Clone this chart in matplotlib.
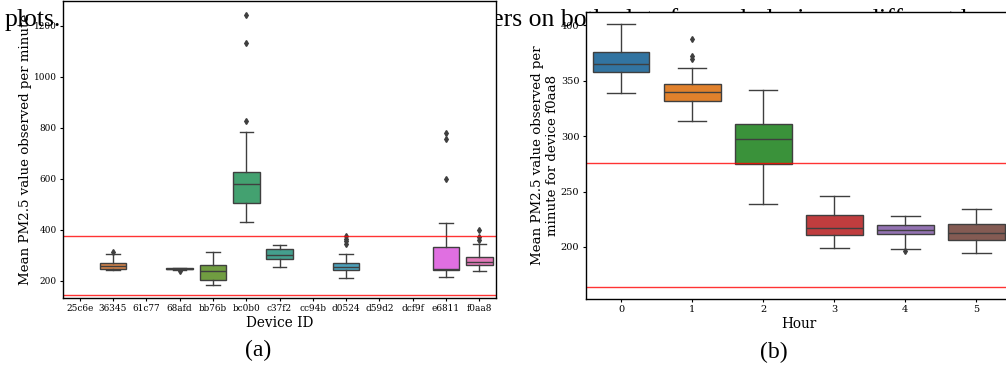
import matplotlib
matplotlib.use("Agg")
import matplotlib.pyplot as plt
import seaborn as sns

# per-device minute means (box statistics), None where a device has no data
devices = ["25c6e", "36345", "61c77", "68afd", "bb76b", "bc0b0", "c37f2",
           "cc94b", "d0524", "d59d2", "dcf9f", "e6811", "f0aa8"]
dev_lo = [None, 242, None, 244, 184, 431, 255, None, 212, None, None, 217, 240]
dev_q1 = [None, 248, None, 246, 204, 506, 285, None, 242, None, None, 243, 261]
dev_med = [None, 260, None, 248, 239, 580, 302, None, 256, None, None, 248, 273]
dev_q3 = [None, 272, None, 250, 261, 627, 324, None, 269, None, None, 332, 295]
dev_hi = [None, 306, None, 252, 315, 784, 340, None, 306, None, None, 429, 345]
dev_fliers = [[], [312], [], [238], [], [828, 1133, 1243], [], [],
              [345, 355, 365, 378], [], [], [600, 755, 780], [361, 371, 400]]
dev_limits = [376, 145]

# device f0aa8 split by hour
hours = ["0", "1", "2", "3", "4", "5"]
hr_lo = [339, 314, 238.5, 199.4, 198.5, 194.3]
hr_q1 = [358, 332, 275, 211, 211.4, 206]
hr_med = [365.5, 340, 297, 217, 215.6, 213]
hr_q3 = [376, 347, 311, 229, 220, 221]
hr_hi = [401, 361.5, 342, 246, 228, 234.5]
hr_fliers = [[], [370, 372, 388], [], [], [196.4], []]
hr_limits = [276, 164]

plt.rcParams["font.family"] = "DejaVu Serif"
LINE = "#3f3f3f"


def draw_boxes(ax, lo, q1, med, q3, hi, fliers, colors):
    stats, pos, cols = [], [], []
    for i in range(len(q1)):
        if q1[i] is None:
            continue
        stats.append(dict(whislo=lo[i], q1=q1[i], med=med[i], q3=q3[i],
                          whishi=hi[i], fliers=fliers[i]))
        pos.append(i)
        cols.append(colors[i])
    bp = ax.bxp(stats, positions=pos, widths=0.8, capwidths=0.4,
                patch_artist=True, manage_ticks=False,
                boxprops=dict(edgecolor=LINE, linewidth=1.0),
                whiskerprops=dict(color=LINE, linewidth=1.0),
                capprops=dict(color=LINE, linewidth=1.0),
                medianprops=dict(color=LINE, linewidth=1.0),
                flierprops=dict(marker="d", markerfacecolor=LINE,
                                markeredgecolor=LINE, markersize=3))
    for patch, c in zip(bp["boxes"], cols):
        patch.set_facecolor(c)


fig = plt.figure(figsize=(10.06, 3.69), dpi=100)

# running text of the page behind the figure
fig.text(5 / 1006, 1 - 26 / 369, "plots.", family="Liberation Serif",
         fontsize=18.5, va="baseline", zorder=-5)
fig.text(445 / 1006, 1 - 26 / 369,
         "outliers on both plots for each device on different hours.",
         family="Liberation Serif", fontsize=18.5, va="baseline", zorder=-5)

# (a) all devices
ax1 = fig.add_axes([63 / 1006, 1 - 298 / 369, 433 / 1006, 297 / 369])
draw_boxes(ax1, dev_lo, dev_q1, dev_med, dev_q3, dev_hi, dev_fliers,
           sns.color_palette("husl", len(devices), desat=0.75))
for v in dev_limits:
    ax1.axhline(v, color="red", linewidth=1.0, alpha=0.8)
ax1.set_xlim(-0.5, len(devices) - 0.5)
ax1.set_ylim(133, 1298)
ax1.set_xticks(range(len(devices)))
ax1.set_xticklabels(devices)
ax1.set_yticks([200, 400, 600, 800, 1000, 1200])
ax1.tick_params(labelsize=6.4, length=2.5, width=0.8, pad=2)
ax1.set_xlabel("Device ID", fontsize=9.8, labelpad=2)
ax1.set_ylabel("Mean PM2.5 value observed per minute", fontsize=9.6)
ax1.yaxis.set_label_coords(-0.071, 0.5)

# (b) one device by hour
ax2 = fig.add_axes([585.5 / 1006, 1 - 299 / 369, 426.5 / 1006, 287 / 369])
draw_boxes(ax2, hr_lo, hr_q1, hr_med, hr_q3, hr_hi, hr_fliers,
           sns.color_palette("tab10", len(hours), desat=0.75))
for v in hr_limits:
    ax2.axhline(v, color="red", linewidth=1.0, alpha=0.8)
ax2.set_xlim(-0.5, len(hours) - 0.5)
ax2.set_ylim(153, 412)
ax2.set_xticks(range(len(hours)))
ax2.set_xticklabels(hours)
ax2.set_yticks([200, 250, 300, 350, 400])
ax2.tick_params(labelsize=7, length=2.5, width=0.8, pad=2)
ax2.set_xlabel("Hour", fontsize=9.8, labelpad=2)
ax2.set_ylabel("Mean PM2.5 value observed per\nminute for device f0aa8",
               fontsize=9.6)
ax2.yaxis.set_label_coords(-0.062, 0.5)

for ax in (ax1, ax2):
    for s in ax.spines.values():
        s.set_linewidth(1.0)

fig.text(258 / 1006, 1 - 350 / 369, "(a)", family="Liberation Serif",
         fontsize=17, ha="center", va="center")
fig.text(774 / 1006, 1 - 352 / 369, "(b)", family="Liberation Serif",
         fontsize=17, ha="center", va="center")

fig.savefig("out.png", dpi=100, facecolor="white")
